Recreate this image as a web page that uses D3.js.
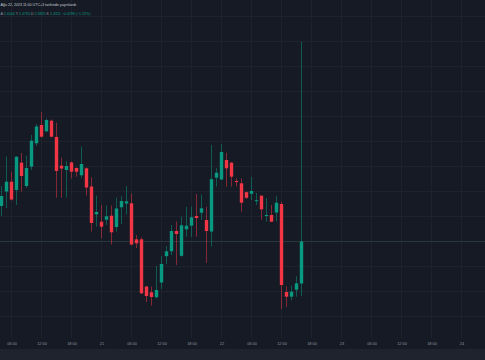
<!DOCTYPE html>
<html><head><meta charset="utf-8">
<script src="https://cdn.jsdelivr.net/npm/d3@7"></script>
<style>html,body{margin:0;padding:0;background:#161a25;overflow:hidden}</style>
</head><body><svg id="c" width="485" height="360"></svg>
<script>
// hourly candles starting 2023-08-20 04:00 (UTC)
const startTime = "2023-08-20T04:00:00Z";
const opens  = [2.494,2.5085,2.5183,2.510,2.5373,2.514,2.5333,2.5567,2.575,2.5687,2.5793,2.563,2.5343,2.530,2.5375,2.532,2.5247,2.5317,2.5135,2.4857,2.4783,2.4803,2.4843,2.473,2.4927,2.4965,2.4967,2.4607,2.4607,2.4135,2.4077,2.4027,2.4175,2.4438,2.4487,2.469,2.4442,2.4707,2.4743,2.484,2.4873,2.480,2.4685,2.5223,2.5205,2.540,2.5373,2.519,2.5167,2.5078,2.5062,2.4988,2.5043,2.4842,2.485,2.4875,2.496,2.408,2.4033,2.4103,2.4165];
const highs  = [2.514,2.5435,2.5283,2.5435,2.547,2.5445,2.565,2.576,2.5883,2.5815,2.5805,2.5773,2.5423,2.539,2.5385,2.5325,2.5535,2.5325,2.5227,2.5045,2.495,2.4945,2.4945,2.5023,2.504,2.514,2.5065,2.465,2.4627,2.414,2.4135,2.434,2.444,2.454,2.475,2.4785,2.4833,2.4933,2.4933,2.506,2.5055,2.4933,2.555,2.532,2.5558,2.5473,2.538,2.5217,2.5217,2.5085,2.523,2.507,2.5045,2.502,2.495,2.504,2.4983,2.4137,2.4145,2.4237,2.6583];
const lows   = [2.484,2.492,2.4995,2.495,2.5083,2.512,2.530,2.554,2.5625,2.568,2.5625,2.5023,2.5023,2.5023,2.5217,2.5233,2.5217,2.5045,2.4685,2.4733,2.4617,2.475,2.4555,2.4683,2.476,2.4855,2.4545,2.452,2.406,2.398,2.3945,2.4017,2.411,2.436,2.445,2.435,2.4433,2.4633,2.463,2.4633,2.480,2.437,2.4535,2.5133,2.520,2.5133,2.5133,2.5135,2.4883,2.501,2.500,2.4952,2.4805,2.4783,2.478,2.4785,2.391,2.393,2.3995,2.4033,2.404];
const closes = [2.504,2.5183,2.5005,2.5433,2.524,2.532,2.5593,2.5735,2.5633,2.580,2.5633,2.529,2.5315,2.534,2.5283,2.5283,2.536,2.5125,2.477,2.488,2.4733,2.4837,2.4677,2.4915,2.499,2.4987,2.4555,2.4567,2.4067,2.404,2.403,2.410,2.436,2.4487,2.469,2.466,2.4747,2.4743,2.4827,2.482,2.4917,2.469,2.5208,2.5273,2.548,2.5317,2.5233,2.5183,2.4973,2.5022,2.509,2.4998,2.4907,2.485,2.4783,2.4973,2.415,2.4033,2.4083,2.4167,2.4585];
const tickTimes = ["2023-08-20T06:00:00Z","2023-08-20T12:00:00Z","2023-08-20T18:00:00Z","2023-08-21T00:00:00Z",
  "2023-08-21T06:00:00Z","2023-08-21T12:00:00Z","2023-08-21T18:00:00Z","2023-08-22T00:00:00Z",
  "2023-08-22T06:00:00Z","2023-08-22T12:00:00Z","2023-08-22T18:00:00Z","2023-08-23T00:00:00Z",
  "2023-08-23T06:00:00Z","2023-08-23T12:00:00Z","2023-08-23T18:00:00Z","2023-08-24T00:00:00Z"];
const tickLabels = ["06:00","12:00","18:00","21","06:00","12:00","18:00","22","06:00","12:00","18:00","23","06:00","12:00","18:00","24"];
const headerLine = "Ağu 22, 2023 11:00 UTC+3 tarihinde yayınlandı";
const legendLabels = ["A","Y","D","K"];
const legendValues = ["2.4444","2.4790","2.3835","2.4311"];
const legendChange = "−0.0298 (−1.22%)";

const W = 485, H = 360;
const UP = "#089981", DOWN = "#f23645";
const svg = d3.select("#c");
svg.append("rect").attr("width", W).attr("height", H).attr("fill", "#161a25");
svg.append("rect").attr("x", 0).attr("y", 349).attr("width", W).attr("height", 11).attr("fill", "#1f232e");

const t0 = new Date(startTime);
const times = opens.map((_, i) => new Date(t0.getTime() + i * 3600e3));
const x = d3.scaleUtc()
  .domain([t0, new Date("2023-08-24T00:00:00Z")])
  .range([1.5, 461.5]);
const y = d3.scaleLinear().domain([2.34, 2.70]).range([360, 0]);

// grid
const grid = svg.append("g");
tickTimes.forEach(t => {
  const gx = Math.floor(x(new Date(t))) + 0.5;
  grid.append("line").attr("x1", gx).attr("x2", gx).attr("y1", 0).attr("y2", 338)
    .attr("stroke", "#1e222d").attr("stroke-width", 1);
});
d3.range(16.5, 338, 25).forEach(gy => {
  grid.append("line").attr("x1", 0).attr("x2", W).attr("y1", gy).attr("y2", gy)
    .attr("stroke", "#1e222d").attr("stroke-width", 1);
});

// last price line
const ly = Math.floor(y(closes[closes.length - 1])) + 0.5;
svg.append("line").attr("x1", 0).attr("x2", W).attr("y1", ly).attr("y2", ly)
  .attr("stroke", "#28373b").attr("stroke-width", 1);

// candles
const data = opens.map((o, i) => ({t: times[i], o, h: highs[i], l: lows[i], c: closes[i]}));
const cg = svg.append("g");
cg.selectAll("line.w").data(data).join("line").attr("class", "w")
  .attr("x1", d => x(d.t)).attr("x2", d => x(d.t))
  .attr("y1", d => y(d.h)).attr("y2", d => y(d.l))
  .attr("stroke", d => d.c >= d.o ? UP : DOWN).attr("stroke-opacity", 0.5).attr("stroke-width", 1);
cg.selectAll("rect.b").data(data).join("rect").attr("class", "b")
  .attr("x", d => x(d.t) - 1.7).attr("width", 3.4)
  .attr("y", d => Math.min(y(d.o), y(d.c)))
  .attr("height", d => Math.max(1, Math.abs(y(d.o) - y(d.c))))
  .attr("fill", d => d.c >= d.o ? UP : DOWN);

// time axis
const axis = d3.axisBottom(x).tickValues(tickTimes.map(t => new Date(t)))
  .tickFormat((d, i) => tickLabels[i]).tickSize(0).tickPadding(0);
const ag = svg.append("g").attr("transform", "translate(0,338)").call(axis);
ag.select(".domain").remove();
ag.selectAll("text").attr("y", 7.4).attr("dy", null)
  .attr("font-family", "Liberation Sans, Arial, sans-serif").attr("font-size", 3.9)
  .attr("fill", "#8f939e");

// header texts
svg.append("text").attr("x", 0.5).attr("y", 6.2)
  .attr("font-family", "Liberation Sans, Arial, sans-serif").attr("font-size", 3.6)
  .attr("fill", "#c7cad1").text(headerLine);
const lg = svg.append("text").attr("x", 0.5).attr("y", 15)
  .attr("font-family", "Liberation Sans, Arial, sans-serif").attr("font-size", 3.6);
legendLabels.forEach((lab, i) => {
  lg.append("tspan").attr("fill", "#9598a1").text((i ? "  " : "") + lab + " ");
  lg.append("tspan").attr("fill", UP).text(legendValues[i]);
});
lg.append("tspan").attr("fill", UP).text("  " + legendChange);
</script></body></html>
